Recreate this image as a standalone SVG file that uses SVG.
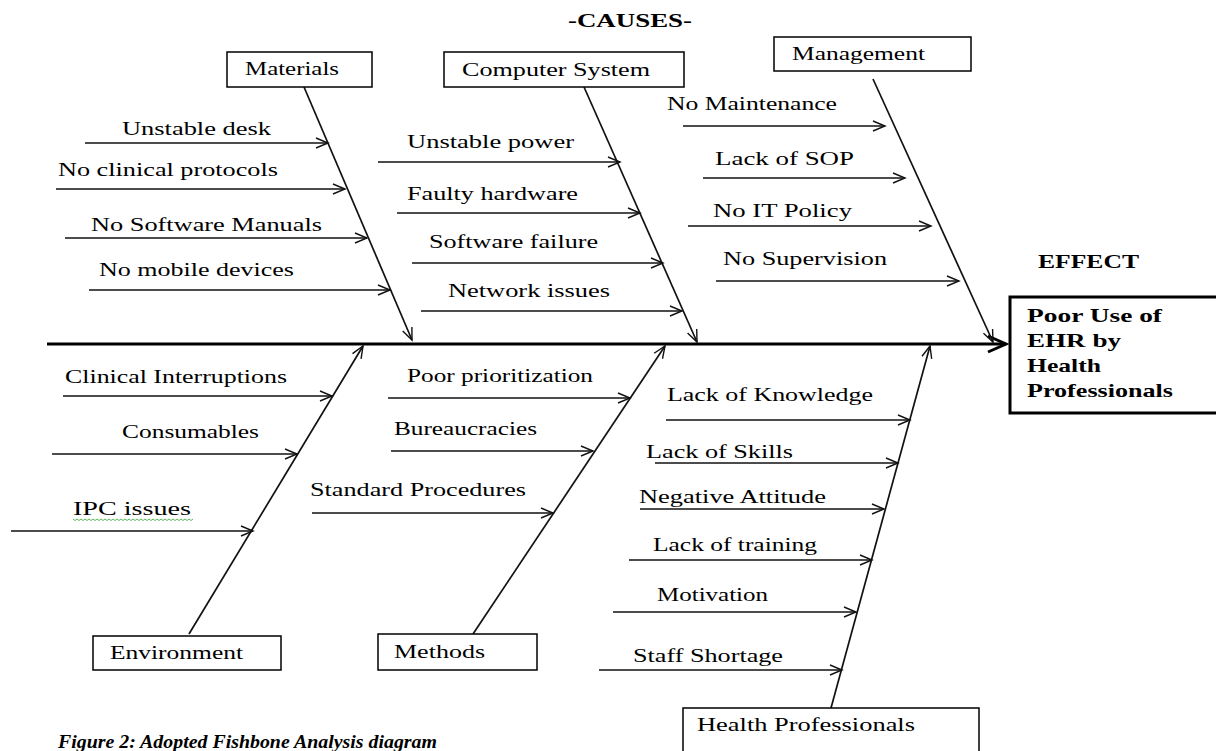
<svg xmlns="http://www.w3.org/2000/svg" width="1216" height="751" viewBox="0 0 1216 751">
<defs>
<style>
.t{font-family:"Liberation Serif","Times New Roman",serif;font-size:19px;fill:#000}
.b{font-weight:bold}
.box{fill:#fff;stroke:#000;stroke-width:1.5}
.ln{stroke:#111;stroke-width:1.3;fill:none;marker-end:url(#ah)}
.bone{stroke:#111;stroke-width:1.7;fill:none;marker-end:url(#ah)}
</style>
<marker id="ah" viewBox="0 0 12 10" refX="12" refY="5" markerWidth="12" markerHeight="10" markerUnits="userSpaceOnUse" orient="auto" overflow="visible">
<path d="M0,0 L12,5 L0,10" fill="none" stroke="#111" stroke-width="1.4"/>
</marker>
<marker id="big" viewBox="0 0 18 16" refX="18" refY="8" markerWidth="18" markerHeight="16" markerUnits="userSpaceOnUse" orient="auto" overflow="visible">
<path d="M0,0 L18,8 L0,16" fill="none" stroke="#000" stroke-width="3"/>
</marker>
</defs>
<rect width="1216" height="751" fill="#fff"/>

<g id="connectors">
<path d="M47,344 H1006" stroke="#000" stroke-width="3.2" fill="none" marker-end="url(#big)"/>
<path class="bone" d="M304,87 L412,340"/>
<path class="bone" d="M584,87 L697,342"/>
<path class="bone" d="M873,79 L993,342"/>
<path class="bone" d="M189,634 L363,346"/>
<path class="bone" d="M473,634 L665,346"/>
<path class="bone" d="M831,708 L930,346"/>
<path class="ln" d="M85,143 H328"/>
<path class="ln" d="M56,189 H345"/>
<path class="ln" d="M65,238 H367"/>
<path class="ln" d="M89,290 H390"/>
<path class="ln" d="M378,162 H620"/>
<path class="ln" d="M397,213 H640"/>
<path class="ln" d="M412,263 H663"/>
<path class="ln" d="M421,311 H682"/>
<path class="ln" d="M683,126 H885"/>
<path class="ln" d="M703,178 H905"/>
<path class="ln" d="M688,226 H931"/>
<path class="ln" d="M716,281 H959"/>
<path class="ln" d="M63,396 H332"/>
<path class="ln" d="M52,454 H297"/>
<path class="ln" d="M11,531 H253"/>
<path class="ln" d="M388,398 H630"/>
<path class="ln" d="M391,451 H593"/>
<path class="ln" d="M312,513 H553"/>
<path class="ln" d="M666,420 H910"/>
<path class="ln" d="M655,463 H898"/>
<path class="ln" d="M640,509 H884"/>
<path class="ln" d="M629,560 H872"/>
<path class="ln" d="M613,612 H856"/>
<path class="ln" d="M599,670 H842"/>
</g>

<g id="causes-title"><text class="t b" x="568" y="27" textLength="124" lengthAdjust="spacingAndGlyphs">-CAUSES-</text></g>

<g id="materials">
<rect class="box" x="227" y="52" width="145" height="35"/>
<text class="t" x="245" y="75" textLength="94" lengthAdjust="spacingAndGlyphs">Materials</text>
</g>
<g id="computer-system">
<rect class="box" x="444" y="52" width="240" height="35"/>
<text class="t" x="462" y="76" textLength="188" lengthAdjust="spacingAndGlyphs">Computer  System</text>
</g>
<g id="management">
<rect class="box" x="774" y="37" width="197" height="34"/>
<text class="t" x="792" y="60" textLength="133" lengthAdjust="spacingAndGlyphs">Management</text>
</g>
<g id="environment">
<rect class="box" x="93" y="636" width="188" height="34"/>
<text class="t" x="110" y="659" textLength="133" lengthAdjust="spacingAndGlyphs">Environment</text>
</g>
<g id="methods">
<rect class="box" x="378" y="634" width="159" height="36"/>
<text class="t" x="394" y="658" textLength="91" lengthAdjust="spacingAndGlyphs">Methods</text>
</g>
<g id="health-professionals">
<rect class="box" x="683" y="708" width="296" height="60"/>
<text class="t" x="697" y="731" textLength="218" lengthAdjust="spacingAndGlyphs">Health  Professionals</text>
</g>

<g id="effect">
<text class="t b" x="1038" y="268" textLength="101" lengthAdjust="spacingAndGlyphs">EFFECT</text>
<rect x="1010" y="297" width="220" height="116" fill="#fff" stroke="#000" stroke-width="3"/>
<text class="t b" x="1027" y="322" textLength="135" lengthAdjust="spacingAndGlyphs">Poor Use of</text>
<text class="t b" x="1027" y="347" textLength="94" lengthAdjust="spacingAndGlyphs">EHR  by</text>
<text class="t b" x="1027" y="372" textLength="74" lengthAdjust="spacingAndGlyphs">Health</text>
<text class="t b" x="1027" y="397" textLength="146" lengthAdjust="spacingAndGlyphs">Professionals</text>
</g>

<g id="materials-causes">
<text class="t" x="122" y="135" textLength="149" lengthAdjust="spacingAndGlyphs">Unstable  desk</text>
<text class="t" x="58" y="176" textLength="220" lengthAdjust="spacingAndGlyphs">No clinical  protocols</text>
<text class="t" x="91" y="231" textLength="231" lengthAdjust="spacingAndGlyphs">No Software  Manuals</text>
<text class="t" x="99" y="276" textLength="195" lengthAdjust="spacingAndGlyphs">No mobile  devices</text>
</g>
<g id="computer-causes">
<text class="t" x="407" y="148" textLength="167" lengthAdjust="spacingAndGlyphs">Unstable  power</text>
<text class="t" x="407" y="200" textLength="171" lengthAdjust="spacingAndGlyphs">Faulty  hardware</text>
<text class="t" x="429" y="248" textLength="169" lengthAdjust="spacingAndGlyphs">Software  failure</text>
<text class="t" x="448" y="297" textLength="162" lengthAdjust="spacingAndGlyphs">Network  issues</text>
</g>
<g id="management-causes">
<text class="t" x="667" y="110" textLength="170" lengthAdjust="spacingAndGlyphs">No Maintenance</text>
<text class="t" x="715" y="165" textLength="139" lengthAdjust="spacingAndGlyphs">Lack  of SOP</text>
<text class="t" x="713" y="217" textLength="139" lengthAdjust="spacingAndGlyphs">No IT Policy</text>
<text class="t" x="723" y="265" textLength="164" lengthAdjust="spacingAndGlyphs">No Supervision</text>
</g>
<g id="environment-causes">
<text class="t" x="65" y="383" textLength="222" lengthAdjust="spacingAndGlyphs">Clinical  Interruptions</text>
<text class="t" x="122" y="438" textLength="137" lengthAdjust="spacingAndGlyphs">Consumables</text>
<text class="t" x="73" y="515" textLength="118" lengthAdjust="spacingAndGlyphs">IPC  issues</text>
<path d="M73,519 l2,1.5 l2,-1.5 l2,1.5 l2,-1.5 l2,1.5 l2,-1.5 l2,1.5 l2,-1.5 l2,1.5 l2,-1.5 l2,1.5 l2,-1.5 l2,1.5 l2,-1.5 l2,1.5 l2,-1.5 l2,1.5 l2,-1.5 l2,1.5 l2,-1.5 l2,1.5 l2,-1.5 l2,1.5 l2,-1.5 l2,1.5 l2,-1.5 l2,1.5 l2,-1.5 l2,1.5 l2,-1.5 l2,1.5 l2,-1.5 l2,1.5 l2,-1.5 l2,1.5 l2,-1.5 l2,1.5 l2,-1.5 l2,1.5 l2,-1.5 l2,1.5 l2,-1.5 l2,1.5 l2,-1.5 l2,1.5 l2,-1.5 l2,1.5 l2,-1.5 l2,1.5 l2,-1.5 l2,1.5 l2,-1.5 l2,1.5 l2,-1.5 l2,1.5 l2,-1.5 l2,1.5 l2,-1.5 l2,1.5 l2,-1.5" fill="none" stroke="#5cb85c" stroke-width="1"/>
</g>
<g id="methods-causes">
<text class="t" x="407" y="382" textLength="186" lengthAdjust="spacingAndGlyphs">Poor prioritization</text>
<text class="t" x="394" y="435" textLength="143" lengthAdjust="spacingAndGlyphs">Bureaucracies</text>
<text class="t" x="310" y="496" textLength="216" lengthAdjust="spacingAndGlyphs">Standard  Procedures</text>
</g>
<g id="hp-causes">
<text class="t" x="667" y="401" textLength="206" lengthAdjust="spacingAndGlyphs">Lack  of Knowledge</text>
<text class="t" x="646" y="458" textLength="147" lengthAdjust="spacingAndGlyphs">Lack  of Skills</text>
<text class="t" x="639" y="503" textLength="187" lengthAdjust="spacingAndGlyphs">Negative  Attitude</text>
<text class="t" x="653" y="551" textLength="164" lengthAdjust="spacingAndGlyphs">Lack  of training</text>
<text class="t" x="657" y="601" textLength="111" lengthAdjust="spacingAndGlyphs">Motivation</text>
<text class="t" x="633" y="662" textLength="150" lengthAdjust="spacingAndGlyphs">Staff Shortage</text>
</g>

<g id="caption">
<text class="t b" x="58" y="748" font-style="italic" textLength="379" lengthAdjust="spacingAndGlyphs">Figure 2: Adopted  Fishbone  Analysis  diagram</text>
</g>
</svg>
